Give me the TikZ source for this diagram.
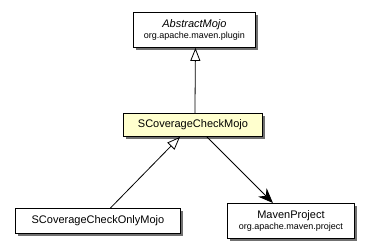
\documentclass[tikz,border=0pt]{standalone}
\usepackage{fontspec}
\setmainfont{Liberation Sans}
\usetikzlibrary{arrows.meta,shadows}
\definecolor{classfill}{RGB}{255,255,206}
\definecolor{shadowgray}{RGB}{112,112,112}
\begin{document}
\begin{tikzpicture}[x=1pt,y=-1pt,
  cls/.style={draw=black, line width=0.9pt, fill=white, inner sep=0pt,
    align=center, anchor=north west,
    drop shadow={shadow xshift=3pt, shadow yshift=-3pt, fill=shadowgray, opacity=1}},
  namefont/.style={font=\fontsize{11}{13}\selectfont},
  generalize/.style={line width=0.8pt, -{Triangle[open, length=13pt, width=10pt, fill=white]}},
  uses/.style={line width=0.8pt, -{Stealth[length=15pt, width=12pt, inset=5pt]}}]
  \useasboundingbox (0,0) rectangle (371,251);

  % classes
  \node[cls, minimum width=122pt, minimum height=35pt] (abstract) at (133,12)
    {\fontsize{11}{14}\selectfont\itshape AbstractMojo\\[-1pt]\fontsize{9}{11}\selectfont org.apache.maven.plugin};
  \node[cls, fill=classfill, minimum width=139pt, minimum height=23pt, namefont] (check) at (123,113)
    {SCoverageCheckMojo};
  \node[cls, minimum width=165pt, minimum height=25pt, namefont] (only) at (15,208)
    {SCoverageCheckOnlyMojo};
  \node[cls, minimum width=127pt, minimum height=35pt] (project) at (227,203)
    {\fontsize{11}{14}\selectfont MavenProject\\[-1pt]\fontsize{9}{11}\selectfont org.apache.maven.project};

  % relations
  \draw[generalize] ([xshift=2pt]check.north) -- ([xshift=1pt]abstract.south);
  \draw[generalize] ([xshift=12.5pt]only.north) -- ([xshift=-13pt]check.south);
  \draw[uses] ([xshift=14pt]check.south) -- ([xshift=-18pt]project.north);
\end{tikzpicture}
\end{document}
